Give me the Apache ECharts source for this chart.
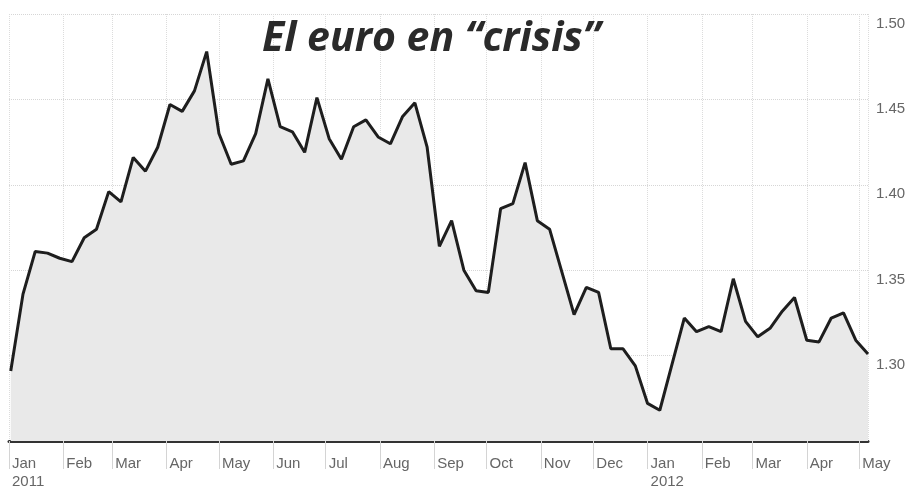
<!DOCTYPE html>
<html>
<head>
<meta charset="utf-8">
<title>El euro en crisis</title>
<script src="https://cdn.jsdelivr.net/npm/echarts@6/dist/echarts.min.js"></script>
<style>
  html, body { margin: 0; padding: 0; background: #fff; }
  #chart { width: 913px; height: 491px; }
</style>
</head>
<body>
<div id="chart"></div>
<script>
  // weekly EUR/USD closes, Jan 2011 - May 2012
  var weeks = [
    '2011-01-02', '2011-01-09', '2011-01-16', '2011-01-23', '2011-01-30',
    '2011-02-06', '2011-02-13', '2011-02-20', '2011-02-27',
    '2011-03-06', '2011-03-13', '2011-03-20', '2011-03-27',
    '2011-04-03', '2011-04-10', '2011-04-17', '2011-04-24',
    '2011-05-01', '2011-05-08', '2011-05-15', '2011-05-22', '2011-05-29',
    '2011-06-05', '2011-06-12', '2011-06-19', '2011-06-26',
    '2011-07-03', '2011-07-10', '2011-07-17', '2011-07-24', '2011-07-31',
    '2011-08-07', '2011-08-14', '2011-08-21', '2011-08-28',
    '2011-09-04', '2011-09-11', '2011-09-18', '2011-09-25',
    '2011-10-02', '2011-10-09', '2011-10-16', '2011-10-23', '2011-10-30',
    '2011-11-06', '2011-11-13', '2011-11-20', '2011-11-27',
    '2011-12-04', '2011-12-11', '2011-12-18', '2011-12-25',
    '2012-01-01', '2012-01-08', '2012-01-15', '2012-01-22', '2012-01-29',
    '2012-02-05', '2012-02-12', '2012-02-19', '2012-02-26',
    '2012-03-04', '2012-03-11', '2012-03-18', '2012-03-25',
    '2012-04-01', '2012-04-08', '2012-04-15', '2012-04-22', '2012-04-29',
    '2012-05-06'
  ]
  var rates = [
    1.291, 1.336, 1.361, 1.360, 1.357,
    1.355, 1.369, 1.374, 1.396,
    1.390, 1.416, 1.408, 1.422,
    1.447, 1.443, 1.455, 1.478,
    1.430, 1.412, 1.414, 1.430, 1.462,
    1.434, 1.431, 1.419, 1.451,
    1.427, 1.415, 1.434, 1.438, 1.428,
    1.424, 1.440, 1.448, 1.422,
    1.364, 1.379, 1.350, 1.338,
    1.337, 1.386, 1.389, 1.413, 1.379,
    1.374, 1.349, 1.324, 1.340,
    1.337, 1.304, 1.304, 1.294,
    1.272, 1.268, 1.295, 1.322, 1.314,
    1.317, 1.314, 1.345, 1.320,
    1.311, 1.316, 1.326, 1.334,
    1.309, 1.308, 1.322, 1.325, 1.309,
    1.301
  ]
  var monthNames = ['Jan', 'Feb', 'Mar', 'Apr', 'May', 'Jun', 'Jul', 'Aug', 'Sep', 'Oct', 'Nov', 'Dec']
  var yTicks = [1.30, 1.35, 1.40, 1.45, 1.50]

  var chart = echarts.init(document.getElementById('chart'))

  chart.setOption({
    animation: false,
    backgroundColor: '#fff',
    title: {
      text: 'El euro en \u201Ccrisis\u201D',
      left: 262,
      top: 19,
      padding: 0,
      textStyle: {
        fontFamily: 'Open Sans',
        fontWeight: 'bold',
        fontStyle: 'italic',
        fontSize: 41,
        color: '#2a2a2a'
      }
    },
    grid: {
      left: 9,
      right: 45,
      top: 14,
      bottom: 48
    },
    xAxis: {
      type: 'time',
      min: new Date(2011, 0, 1).getTime(),
      max: new Date(2012, 4, 6).getTime(),
      splitNumber: 16,
      minInterval: 28 * 24 * 3600 * 1000,
      maxInterval: 31 * 24 * 3600 * 1000,
      axisLine: {
        lineStyle: { color: '#333', width: 3 }
      },
      axisTick: {
        show: true,
        length: 28,
        lineStyle: { color: '#d4d4d4', width: 1 }
      },
      axisLabel: {
        margin: 14,
        align: 'left',
        padding: [0, 0, 0, 3],
        fontFamily: 'Liberation Sans',
        fontSize: 15,
        lineHeight: 18,
        color: '#666',
        formatter: function (value) {
          var d = new Date(value)
          var m = monthNames[d.getMonth()]
          return d.getMonth() === 0 ? m + '\n' + d.getFullYear() : m
        }
      },
      splitLine: {
        show: true,
        lineStyle: { color: '#dcdcdc', type: 'dotted', width: 1 }
      }
    },
    yAxis: {
      type: 'value',
      position: 'right',
      min: 1.25,
      max: 1.50,
      interval: 0.05,
      axisLine: { show: false },
      axisTick: { show: false },
      axisLabel: {
        margin: 8,
        verticalAlign: 'top',
        padding: [2, 0, 0, 0],
        fontFamily: 'Liberation Sans',
        fontSize: 15,
        color: '#666',
        formatter: function (v) {
          var t = yTicks.find(function (y) { return Math.abs(y - v) < 1e-6 })
          return t === undefined ? '' : t.toFixed(2)
        }
      },
      splitLine: {
        lineStyle: { color: '#d6d6d6', type: 'dotted', width: 1 }
      }
    },
    series: [
      {
        name: 'EUR/USD',
        type: 'line',
        data: weeks.map(function (w, i) { return [w, rates[i]] }),
        showSymbol: false,
        lineStyle: { color: '#1e1e1e', width: 3 },
        areaStyle: { color: '#e9e9e9', opacity: 1, origin: 'start' },
        z: 3
      }
    ]
  })
</script>
</body>
</html>
